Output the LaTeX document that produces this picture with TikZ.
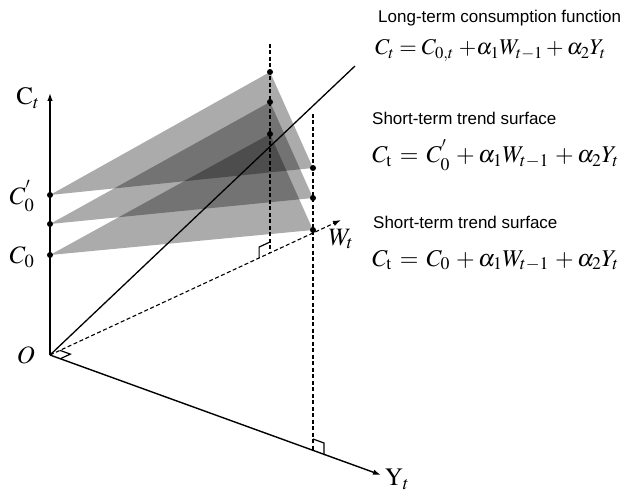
\documentclass[tikz,border=0pt]{standalone}
\usepackage{mathptmx}
\usepackage{fontspec}
\newfontfamily\labsans{Liberation Sans}
\usetikzlibrary{arrows.meta,calc}
\tikzset{
  axis/.style={line width=1.4pt,-{Latex[length=8pt,width=5.5pt]}},
  guide/.style={line width=1.1pt,dash pattern=on 4pt off 2.5pt},
  plane/.style={fill=black,fill opacity=0.33,draw=none},
  dot/.style={circle,fill=black,inner sep=0pt,minimum size=6pt},
  ramark/.style={line width=1.2pt},
  axlabel/.style={font=\fontsize{25}{28}\selectfont,inner sep=0pt},
  caption/.style={font=\labsans\fontsize{17}{20}\selectfont,anchor=base west,inner sep=0pt},
  eqn/.style={font=\fontsize{22.5}{26}\selectfont,anchor=base west,inner sep=0pt},
  eqnb/.style={font=\fontsize{24}{28}\selectfont,anchor=base west,inner sep=0pt}
}
\begin{document}
\begin{tikzpicture}[x=1pt,y=-1pt]
\useasboundingbox (0,0) rectangle (627,492);
% key points
\coordinate (O) at (50,355);
\coordinate (Ctip) at (50,93);
\coordinate (Ytip) at (381,475);
\coordinate (Wtip) at (341,220);
\coordinate (Ltip) at (355,66);
\coordinate (L1top) at (270,44);
\coordinate (L1foot) at (270,253);
\coordinate (L2top) at (313,114);
\coordinate (L2foot) at (313,451);
% planes
\coordinate (A1) at (50,195); \coordinate (B1) at (270,72);  \coordinate (D1) at (313,168);
\coordinate (A2) at (50,224); \coordinate (B2) at (270,102); \coordinate (D2) at (313,198);
\coordinate (A3) at (50,255); \coordinate (B3) at (270,134); \coordinate (D3) at (313,230);
\fill[plane] (A1) -- (B1) -- (D1) -- cycle;
\fill[plane] (A2) -- (B2) -- (D2) -- cycle;
\fill[plane] (A3) -- (B3) -- (D3) -- cycle;
% axes
\draw[axis] (O) -- (Ctip);
\draw[axis] (O) -- (Ytip);
\draw[guide,-{Latex[length=8pt,width=5.5pt]}] (O) -- (Wtip);
\draw[line width=1.3pt] (O) -- (Ltip);
% vertical guides
\draw[guide] (L1top) -- (L1foot);
\draw[guide] (L2top) -- (L2foot);
% right angle marks
\coordinate (mw) at ($(O)!11pt!(Wtip)$);
\coordinate (my) at ($(O)!11pt!(Ytip)$);
\draw[ramark] (mw) -- ($(mw)+(my)-(O)$) -- (my);
\coordinate (m1) at ($(L1foot)!12pt!(O)$);
\draw[ramark] (m1) -- ++(0,-11) -- ($(L1foot)+(0,-11)$);
\draw[ramark] (313,439) -- (324,443) -- (324,455);
% dots
\foreach \p in {A1,A2,A3,B1,B2,B3,D1,D2,D3} \node[dot] (d\p) at (\p) {};
% labels
\node[axlabel] (lC) at (28,98) {$\mathrm{C}_t$};
\node[axlabel] (lC0p) at (22,196) {$C_0^{'}$};
\node[axlabel] (lC0) at (22,257) {$C_0$};
\node[axlabel] (lO) at (26,355) {$O$};
\node[axlabel] (lW) at (341,239) {$W_t$};
\node[axlabel] (lY) at (397,479) {$\mathrm{Y}_t$};
% captions and equations
\node[caption] (t1) at (378,23) {Long-term consumption function};
\node[eqn] (e1) at (375,55) {$C_t = C_{0,t}\;{+}\alpha_1 W_{t-1} + \alpha_2 Y_t$};
\node[caption] (t2) at (372,125) {Short-term trend surface};
\node[eqnb] (e2) at (372,163) {$C_{\mathrm{t}} \,=\, C_0^{'} \,+ \alpha_1 W_{t-1} \,+ \alpha_2 Y_t$};
\node[caption] (t3) at (373,229) {Short-term trend surface};
\node[eqnb] (e3) at (372,266) {$C_{\mathrm{t}} \,=\, C_0 \,+ \alpha_1 W_{t-1} \,+ \alpha_2 Y_t$};
\end{tikzpicture}
\end{document}
